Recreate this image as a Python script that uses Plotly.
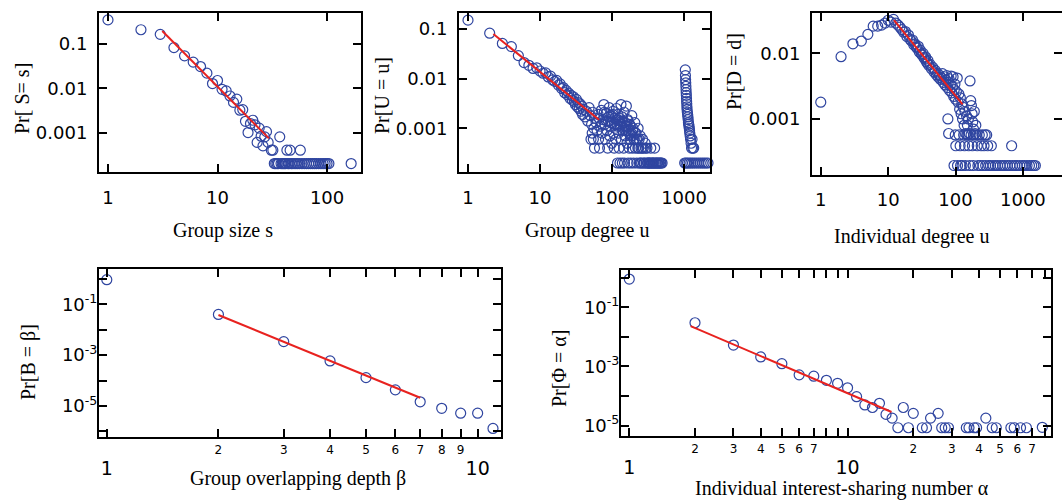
import plotly.graph_objects as go

# ---------------- data ----------------
# Panel 1: group size s
s_vals = [1, 2, 3, 4, 5, 6, 7, 8, 9, 10, 11, 12, 13, 14, 15, 16, 17, 18, 19, 20,
          21, 22, 23, 24, 25, 26, 27, 28, 29, 31, 32, 37, 43, 46, 57,
          33, 34, 35, 36, 38, 39, 40, 41, 42, 44, 45, 47, 48, 50, 52, 54, 56, 59,
          62, 65, 68, 71, 74, 77, 80, 84, 88, 92, 96, 100, 104, 166]
s_prob = [0.35, 0.21, 0.165, 0.083, 0.054, 0.039, 0.031, 0.022, 0.0128, 0.015,
          0.0095, 0.0087, 0.0067, 0.0048, 0.0057, 0.0032, 0.0033, 0.0018, 0.0010, 0.0016,
          0.0019, 0.0015, 0.0006, 0.00126, 0.00083, 0.0005, 0.0008, 0.00105, 0.0006,
          0.0004, 0.0004, 0.0008, 0.0004, 0.0004, 0.0004,
          0.0002, 0.0002, 0.0002, 0.0002, 0.0002, 0.0002, 0.0002, 0.0002, 0.0002, 0.0002,
          0.0002, 0.0002, 0.0002, 0.0002, 0.0002, 0.0002, 0.0002, 0.0002,
          0.0002, 0.0002, 0.0002, 0.0002, 0.0002, 0.0002, 0.0002, 0.0002, 0.0002, 0.0002,
          0.0002, 0.0002, 0.0002, 0.0002]
s_fit_x = [3.13, 29.5]
s_fit_y = [0.196, 0.00074]

# Panel 2: group degree u
u_vals = [1, 2, 3, 4, 5, 6, 7, 8, 9, 10, 11, 12, 13, 14, 15, 16, 17, 18, 19, 20,
          21, 22, 23, 24, 25, 26, 27, 28, 29, 30, 31, 32, 33, 34, 35, 36, 37, 38, 39, 40,
          42, 44, 46, 48, 50, 51, 52, 53, 54, 55, 56, 57, 58, 60,
          62, 64, 65, 67, 69, 71, 73, 75, 77, 79, 81, 83, 85, 87, 89, 91, 93, 95, 97, 99,
          101, 103, 105, 107, 109, 111, 113, 115, 117, 119, 121, 123, 125, 127, 129, 131,
          133, 135, 137, 139, 141, 143, 145, 147, 149, 152, 155, 158, 161, 164, 167, 170,
          173, 176, 179, 182, 185, 188, 191, 195, 199, 203, 207, 211, 215, 220, 225, 230,
          235, 240, 246, 252, 258, 265, 272, 280, 288, 296, 305, 315, 325, 335, 345, 360,
          375, 390, 410, 430, 455, 480,
          66, 72, 78, 84, 90, 96, 102, 108, 114, 120, 126, 132, 138, 144, 150, 156, 162,
          168, 174, 180, 186, 193, 201, 209, 218, 228, 238, 249, 262, 276, 292, 310, 330,
          350, 368, 385, 400, 420, 445, 470, 495]
u_prob = [0.15, 0.082, 0.051, 0.044, 0.029, 0.021, 0.0185, 0.016, 0.0165, 0.0142,
          0.0128, 0.013, 0.0108, 0.0112, 0.0094, 0.0088, 0.0092, 0.0074, 0.0078, 0.0063,
          0.0066, 0.0052, 0.0058, 0.0047, 0.0051, 0.0040, 0.0046, 0.0037, 0.0043, 0.0034,
          0.0030, 0.0038, 0.0027, 0.0033, 0.0025, 0.0031, 0.0022, 0.0028, 0.0019, 0.0024,
          0.0017, 0.0022, 0.0014, 0.0026, 0.0018, 0.0006, 0.0012, 0.0008, 0.0021, 0.0006,
          0.0010, 0.0004, 0.0016, 0.0013,
          0.0009, 0.0019, 0.0006, 0.0004, 0.0011, 0.0023, 0.0008, 0.0015, 0.0030, 0.0012,
          0.0006, 0.0020, 0.0009, 0.0004, 0.0014, 0.0026, 0.0007, 0.0011, 0.0018, 0.0005,
          0.0013, 0.0022, 0.0008, 0.0004, 0.0016, 0.0010, 0.0006, 0.0025, 0.0012, 0.0002,
          0.0019, 0.0008, 0.0004, 0.0014, 0.0002, 0.0011, 0.0030, 0.0006, 0.0017, 0.0002,
          0.0009, 0.0013, 0.0004, 0.0021, 0.0002, 0.0007, 0.0011, 0.0028, 0.0005, 0.0015,
          0.0002, 0.0009, 0.0004, 0.0012, 0.0006, 0.0002, 0.0008, 0.0018, 0.0004, 0.0010,
          0.0002, 0.0006, 0.0013, 0.0004, 0.0008, 0.0002, 0.0006, 0.0010, 0.0004, 0.0002,
          0.0007, 0.0004, 0.0002, 0.0006, 0.0004, 0.0002, 0.0005, 0.0002, 0.0004, 0.0002,
          0.0002, 0.0002, 0.0004, 0.0002, 0.0002, 0.0004, 0.0002, 0.0002, 0.0002, 0.0002,
          0.0016, 0.0012, 0.0021, 0.0014, 0.0017, 0.0013, 0.0019, 0.0012, 0.0015, 0.0011,
          0.0016, 0.0012, 0.0014, 0.0010, 0.0013, 0.0009, 0.0011, 0.0014, 0.0008, 0.0011,
          0.0007, 0.0009, 0.0006, 0.0008, 0.0006, 0.0004, 0.0006, 0.0002, 0.0004, 0.0002,
          0.0004, 0.0002, 0.0002, 0.0002, 0.0002, 0.0002, 0.0002, 0.0002, 0.0002, 0.0002,
          0.0002]
u_col_vals = [1040, 1045, 1050, 1055, 1060, 1065, 1070, 1075, 1080, 1085, 1090, 1095,
              1100, 1110, 1120, 1130, 1140, 1150, 1160, 1170, 1180, 1190, 1200, 1215,
              1230, 1250, 1270, 1290, 1320, 1360,
              1020, 1065, 1115, 1175, 1240, 1310, 1390, 1480, 1580, 1680, 1790, 1900,
              2020, 2150]
u_col_prob = [0.015, 0.0115, 0.0095, 0.0082, 0.0070, 0.0060, 0.0052, 0.0046, 0.0040,
              0.0035, 0.0031, 0.0027, 0.0024, 0.0021, 0.0019, 0.0017, 0.0015, 0.0013,
              0.0012, 0.0011, 0.0010, 0.0009, 0.0008, 0.0007, 0.0006, 0.0005, 0.0004,
              0.0006, 0.0004, 0.0004,
              0.0002, 0.0002, 0.0002, 0.0002, 0.0002, 0.0002, 0.0002, 0.0002, 0.0002,
              0.0002, 0.0002, 0.0002, 0.0002, 0.0002]
u_fit_x = [2.25, 66]
u_fit_y = [0.079, 0.00148]

# Panel 3: individual degree
d_vals = [1, 2, 3, 4, 5, 6, 7, 8, 9, 10, 11, 12, 13, 14, 15, 16, 17, 18, 19, 20,
          21, 22, 23, 24, 25, 26, 27, 28, 29, 30, 31, 32, 33, 34, 35, 36, 37, 38, 39, 40,
          42, 44, 46, 48, 50, 52, 54, 56, 58, 60, 62, 64, 66, 68, 70, 72, 74, 76, 77, 78,
          79, 80, 82, 84, 86, 88, 90, 92, 94, 96, 98, 100, 103, 106, 109, 112, 115, 118,
          121, 124, 127, 130, 134, 138, 142, 146, 150, 155, 160, 164, 168, 172, 176, 180,
          185, 190, 195, 200]
d_prob = [0.0018, 0.0089, 0.014, 0.0154, 0.0195, 0.026, 0.026, 0.027, 0.029, 0.032,
          0.030, 0.033, 0.029, 0.027, 0.025, 0.023, 0.021, 0.0215, 0.018, 0.019,
          0.0165, 0.0155, 0.016, 0.0135, 0.014, 0.0125, 0.012, 0.0128, 0.0105, 0.0112,
          0.0098, 0.0094, 0.010, 0.0086, 0.0082, 0.0088, 0.0075, 0.0071, 0.0078, 0.0066,
          0.0068, 0.0058, 0.0061, 0.0052, 0.0055, 0.0047, 0.0050, 0.0043, 0.0046, 0.0040,
          0.0042, 0.0049, 0.0036, 0.0044, 0.0033, 0.0039, 0.0046, 0.0030, 0.0010, 0.0036,
          0.0006, 0.0041, 0.0027, 0.0033, 0.0045, 0.0025, 0.0031, 0.0044, 0.0022, 0.0028,
          0.0034, 0.0020, 0.0026, 0.0042, 0.0018, 0.0024, 0.0014, 0.0021, 0.0012, 0.0017,
          0.0010, 0.0015, 0.0008, 0.0013, 0.0006, 0.0011, 0.0008, 0.0010, 0.0006, 0.0038,
          0.0019, 0.0016, 0.0012, 0.0009, 0.0007, 0.0013, 0.0006, 0.0008]
d_row_vals = [99, 113, 132, 148, 153, 170, 187, 205, 225, 250, 275, 290,
              101, 117, 136, 157, 178, 210, 240, 265, 300, 340, 680,
              95, 107, 119, 125, 140, 162, 183, 215, 235, 255, 280, 310, 330, 360, 390,
              420, 460, 500, 540, 590, 640, 700, 760, 820, 900, 980, 1050, 1150, 1250,
              1350, 1450, 1530, 3850]
d_row_prob = [0.00057, 0.00057, 0.00057, 0.00057, 0.00057, 0.00057, 0.00057, 0.00057,
              0.00057, 0.00057, 0.00057, 0.00057,
              0.00039, 0.00039, 0.00039, 0.00039, 0.00039, 0.00039, 0.00039, 0.00039,
              0.00039, 0.00039, 0.00039,
              0.000195, 0.000195, 0.000195, 0.000195, 0.000195, 0.000195, 0.000195,
              0.000195, 0.000195, 0.000195, 0.000195, 0.000195, 0.000195, 0.000195,
              0.000195, 0.000195, 0.000195, 0.000195, 0.000195, 0.000195, 0.000195,
              0.000195, 0.000195, 0.000195, 0.000195, 0.000195, 0.000195, 0.000195,
              0.000195, 0.000195, 0.000195, 0.000195, 0.000195]
d_fit_x = [12.2, 127]
d_fit_y = [0.032, 0.00167]

# Panel 4: group overlapping depth
b_vals = [1, 2, 3, 4, 5, 6, 7, 8, 9, 10, 11]
b_prob = [0.93, 0.04, 0.0034, 0.00059, 0.00013, 0.000043, 0.0000146, 0.0000081,
          0.0000052, 0.0000052, 0.0000013]
b_fit_x = [2, 7]
b_fit_y = [0.038, 0.000021]

# Panel 5: individual interest-sharing number
a_vals = [1, 2, 3, 4, 5, 6, 7, 8, 9, 10, 11, 12, 13, 14, 15, 16, 17, 18, 19, 20,
          22, 23, 24, 26, 27, 28, 29, 35, 36, 38, 39, 43, 46, 48, 56, 58, 62, 66, 78]
a_prob = [0.9, 0.030, 0.0053, 0.0021, 0.00124, 0.00052, 0.00047, 0.00034, 0.00027,
          0.00019, 0.000095, 0.00005, 0.000041, 0.000057, 0.000024, 0.000018, 0.0000085,
          0.000041, 0.0000085, 0.000026, 0.0000085, 0.0000085, 0.000018, 0.000026,
          0.0000085, 0.0000085, 0.0000085, 0.0000085, 0.0000085, 0.0000085, 0.0000085,
          0.000018, 0.0000085, 0.0000085, 0.0000085, 0.0000085, 0.0000085, 0.0000085,
          0.0000088]
a_fit_x = [1.91, 15.9]
a_fit_y = [0.023, 0.000029]

# tick labels
top_y_ticks = [0.1, 0.01, 0.001]
top_y_text = ["0.1", "0.01", "0.001"]
top_x_ticks = [1, 10, 100, 1000]
top_x_text = ["1", "10", "100", "1000"]
bot_y_ticks = [1, 0.1, 0.01, 0.001, 1e-4, 1e-5, 1e-6]
bot_y_text = ["", "10<sup>-1</sup>", "", "10<sup>-3</sup>", "", "10<sup>-5</sup>", ""]
bl_x_ticks = [1, 2, 3, 4, 5, 6, 7, 8, 9, 10]
bl_x_text = ["1", "2", "3", "4", "5", "6", "7", "8", "9", "10"]
br_x_ticks = [1, 2, 3, 4, 5, 6, 7, 8, 9, 10, 20, 30, 40, 50, 60, 70, 80]
br_x_text = ["1", "2", "3", "4", "5", "6", "7", "", "", "10",
             "2", "3", "4", "5", "6", "7", ""]
big_labels = {"1", "10"}

BLUE = "#2f45a0"
RED = "#e8221f"
W, H = 1062, 502


def fmt_small(labels):
    out = []
    for t in labels:
        if t in big_labels:
            out.append("<br><span style='font-size:19px'>" + t + "</span>")
        elif t == "":
            out.append("")
        else:
            out.append("<span style='font-size:12px'>" + t + "</span>")
    return out


fig = go.Figure()


def add_points(x, y, n):
    fig.add_trace(go.Scatter(
        x=x, y=y, mode="markers", showlegend=False, cliponaxis=False,
        xaxis="x" + n, yaxis="y" + n,
        marker=dict(symbol="circle-open", size=10, color=BLUE, line=dict(width=1.2))))


def add_fit(x, y, n):
    fig.add_trace(go.Scatter(
        x=x, y=y, mode="lines", showlegend=False,
        xaxis="x" + n, yaxis="y" + n, line=dict(color=RED, width=2)))


add_points(s_vals, s_prob, "")
add_fit(s_fit_x, s_fit_y, "")
add_points(u_vals + u_col_vals, u_prob + u_col_prob, "2")
add_fit(u_fit_x, u_fit_y, "2")
add_points(d_vals + d_row_vals, d_prob + d_row_prob, "3")
add_fit(d_fit_x, d_fit_y, "3")
add_points(b_vals, b_prob, "4")
add_fit(b_fit_x, b_fit_y, "4")
add_points(a_vals, a_prob, "5")
add_fit(a_fit_x, a_fit_y, "5")

TICKFONT = dict(family="DejaVu Sans", size=18, color="black")
common = dict(type="log", showgrid=False, zeroline=False, showline=True,
              linecolor="black", linewidth=2, mirror="ticks", ticks="inside",
              ticklen=8, tickwidth=2, tickcolor="black", tickfont=TICKFONT,
              automargin=False, tickangle=0)


def px_dom(a, b):
    return [a / W, b / W]


def py_dom(top, bottom):
    return [1 - bottom / H, 1 - top / H]


SMALLX = dict(family="DejaVu Sans", size=16, color="black")
BOTY = dict(family="DejaVu Sans", size=18, color="black")

layout = dict(
    width=W, height=H, margin=dict(l=0, r=0, t=0, b=0, autoexpand=False),
    paper_bgcolor="white", plot_bgcolor="white", showlegend=False,
    xaxis=dict(common, domain=px_dom(99, 361), range=[-0.082, 2.31], anchor="y",
               tickvals=top_x_ticks[:3], ticktext=top_x_text[:3], ticklabelstandoff=8),
    yaxis=dict(common, domain=py_dom(13, 172), range=[-3.89, -0.30], anchor="x",
               tickvals=top_y_ticks, ticktext=top_y_text, ticklabelstandoff=6),
    xaxis2=dict(common, domain=px_dom(459, 710), range=[-0.125, 3.36], anchor="y2",
                tickvals=top_x_ticks, ticktext=top_x_text, ticklabelstandoff=8),
    yaxis2=dict(common, domain=py_dom(13, 172), range=[-3.88, -0.68], anchor="x2",
                tickvals=top_y_ticks, ticktext=top_y_text, ticklabelstandoff=6),
    xaxis3=dict(common, domain=px_dom(812, 1062), range=[-0.13, 3.58], anchor="y3",
                tickvals=top_x_ticks, ticktext=top_x_text, ticklabelstandoff=8),
    yaxis3=dict(common, domain=py_dom(12.7, 174.7), range=[-3.85, -1.38], anchor="x3",
                tickvals=top_y_ticks[1:], ticktext=top_y_text[1:], ticklabelstandoff=6),
    xaxis4=dict(common, domain=px_dom(99, 501), range=[-0.021, 1.063], anchor="y4",
                tickvals=bl_x_ticks, ticktext=fmt_small(bl_x_text), tickfont=SMALLX,
                ticklabelstandoff=-4),
    yaxis4=dict(common, domain=py_dom(269, 436.7), range=[-6.21, 0.39], anchor="x4",
                tickvals=bot_y_ticks, ticktext=bot_y_text, tickfont=BOTY,
                ticklabelstandoff=-4),
    xaxis5=dict(common, domain=px_dom(621, 1051), range=[-0.038, 1.932], anchor="y5",
                tickvals=br_x_ticks, ticktext=fmt_small(br_x_text), tickfont=SMALLX,
                ticklabelstandoff=-4),
    yaxis5=dict(common, domain=py_dom(270, 436), range=[-5.35, 0.26], anchor="x5",
                tickvals=bot_y_ticks[:-1], ticktext=bot_y_text[:-1], tickfont=BOTY,
                ticklabelstandoff=-4),
)
fig.update_layout(**layout)

TITLEFONT = dict(family="Liberation Serif", size=20, color="black")
titles = [
    ("Group size s", 223, 230, 0),
    ("Pr[ S= s]", 22, 99, -90),
    ("Group degree u", 587, 230, 0),
    ("Pr[U = u]", 382, 96, -90),
    ("Individual degree u", 912, 236, 0),
    ("Pr[D = d]", 734, 72, -90),
    ("Group overlapping depth β", 298, 478, 0),
    ("Pr[B = β]", 28, 362, -90),
    ("Individual interest-sharing number α", 842, 488, 0),
    ("Pr[Φ = α]", 559, 369, -90),
]
for text, xp, yp, ang in titles:
    fig.add_annotation(text=text, x=xp / W, y=1 - yp / H, xref="paper", yref="paper",
                       xanchor="center", yanchor="middle", showarrow=False,
                       textangle=ang, font=TITLEFONT)

fig.write_html("out.html", config={"displayModeBar": False},
               post_script="document.body.style.margin='0px';"
                           "document.body.style.overflow='hidden';")
